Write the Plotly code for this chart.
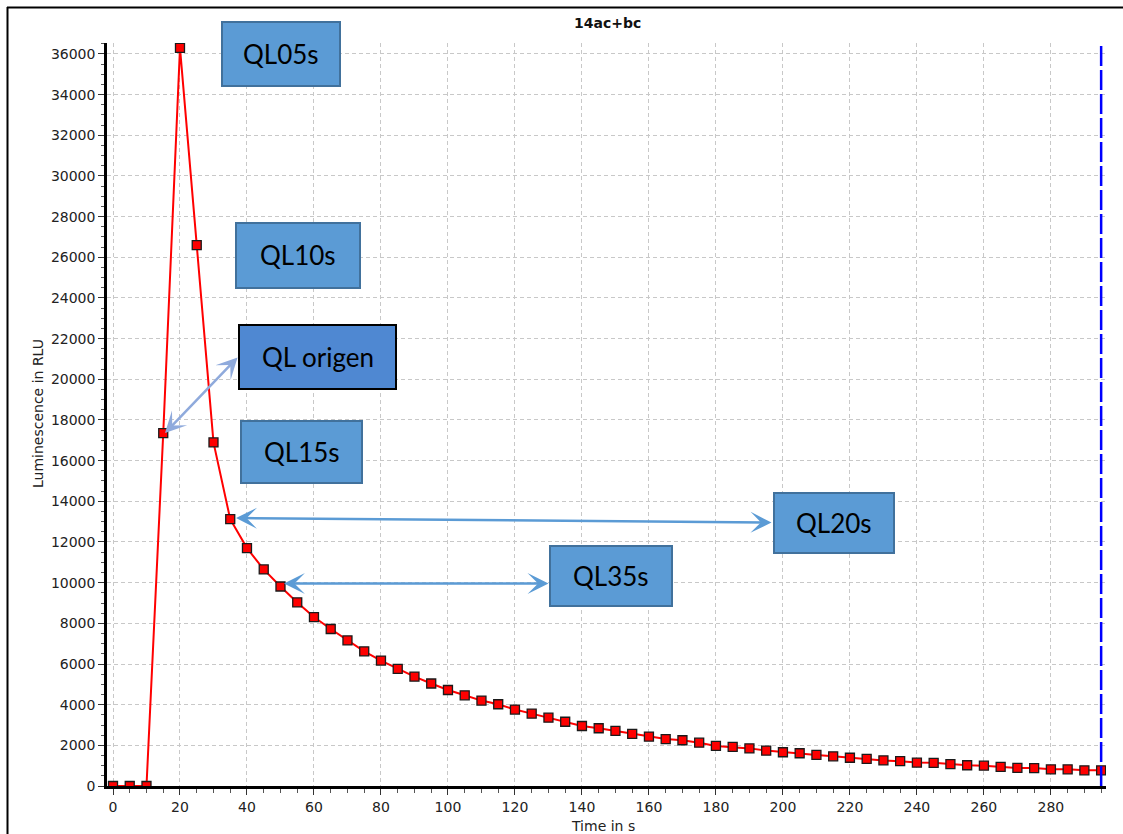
import plotly.graph_objects as go

# ---------------- data ----------------
time_s = [0, 5, 10, 15, 20, 25, 30, 35, 40, 45, 50, 55, 60, 65, 70, 75, 80, 85, 90, 95,
          100, 105, 110, 115, 120, 125, 130, 135, 140, 145, 150, 155, 160, 165, 170, 175,
          180, 185, 190, 195, 200, 205, 210, 215, 220, 225, 230, 235, 240, 245, 250, 255,
          260, 265, 270, 275, 280, 285, 290, 295]
luminescence = [0, 0, 0, 17350, 36300, 26600, 16900, 13120, 11700, 10650, 9810, 9030,
                8310, 7720, 7160, 6620, 6170, 5760, 5380, 5040, 4720, 4460, 4200, 4020,
                3760, 3560, 3360, 3160, 2950, 2840, 2710, 2560, 2430, 2310, 2250, 2130,
                1970, 1920, 1850, 1740, 1660, 1610, 1530, 1460, 1390, 1330, 1260, 1220,
                1150, 1140, 1080, 1020, 1000, 940, 890, 880, 820, 820, 770, 770]
x_ticks = [0, 20, 40, 60, 80, 100, 120, 140, 160, 180, 200, 220, 240, 260, 280]
y_ticks = [0, 2000, 4000, 6000, 8000, 10000, 12000, 14000, 16000, 18000, 20000,
           22000, 24000, 26000, 28000, 30000, 32000, 34000, 36000]
cursor_time = 295
title_text = "14ac+bc"
x_title = "Time in s"
y_title = "Luminescence in RLU"
box_labels = ["QL05s", "QL10s", "QL origen", "QL15s", "QL20s", "QL35s"]

# ---------------- layout geometry (pixels) ----------------
W, H = 1123, 834
L, R, T, B = 107, 17, 43, 48
PW, PH = W - L - R, H - T - B


def px(x):
    return (x - L) / PW


def py(y):
    return (H - B - y) / PH


fig = go.Figure()
fig.add_trace(go.Scatter(
    x=time_s, y=luminescence, mode="lines+markers",
    line=dict(color="#FF0000", width=2),
    marker=dict(symbol="square", size=9, color="#FF0000",
                line=dict(color="#1a1a1a", width=1.3)),
    showlegend=False, hoverinfo="x+y",
))

shapes = []
annotations = []

# outer frame (top and left)
shapes.append(dict(type="line", xref="paper", yref="paper", x0=px(7), x1=px(1123),
                   y0=py(7.5), y1=py(7.5), line=dict(color="#000000", width=2)))
shapes.append(dict(type="line", xref="paper", yref="paper", x0=px(7.5), x1=px(7.5),
                   y0=py(7), y1=py(834), line=dict(color="#000000", width=2)))

# blue cursor line
shapes.append(dict(type="line", xref="x", yref="paper", x0=cursor_time, x1=cursor_time,
                   y0=0, y1=py(46), line=dict(color="#0000FF", width=2.5, dash="20px,4px")))

# boxes (left, top, right, bottom) in px
boxes = [
    (222, 22, 340, 86, "#5B9BD5", "#41719C"),
    (236, 223, 360, 288, "#5B9BD5", "#41719C"),
    (239, 325, 396, 389, "#4F88D2", "#000000"),
    (241, 421, 362, 483, "#5B9BD5", "#41719C"),
    (774, 493, 894, 553, "#5B9BD5", "#41719C"),
    (550, 546, 672, 606, "#5B9BD5", "#41719C"),
]
for (x0, y0, x1, y1, fill, border), label in zip(boxes, box_labels):
    shapes.append(dict(type="rect", xref="paper", yref="paper",
                       x0=px(x0), x1=px(x1), y0=py(y1), y1=py(y0),
                       fillcolor=fill, line=dict(color=border, width=2), layer="above"))
    annotations.append(dict(xref="paper", yref="paper", x=px((x0 + x1) / 2), y=py((y0 + y1) / 2),
                            text=label, showarrow=False, xanchor="center", yanchor="middle",
                            font=dict(family="Lato", size=26, color="#000000")))

# double-headed arrows: (head_x, head_y, tail_x, tail_y, color)
arrows = [
    (165, 433, 239, 356, "#8FAADC"),
    (236, 518, 773, 522.5, "#5B9BD5"),
    (284, 583.5, 550, 583.5, "#5B9BD5"),
]
for hx, hy, tx, ty, col in arrows:
    annotations.append(dict(xref="paper", yref="paper", x=px(hx), y=py(hy),
                            ax=tx - hx, ay=ty - hy, axref="pixel", ayref="pixel",
                            text="", showarrow=True, arrowside="end+start",
                            arrowhead=3, startarrowhead=3, arrowsize=1.4, startarrowsize=1.4,
                            arrowwidth=2.5, arrowcolor=col, standoff=0, startstandoff=0))

# title and axis titles
annotations.append(dict(xref="paper", yref="paper", x=px(607), y=py(23), text="<b>" + title_text + "</b>",
                        showarrow=False, xanchor="center", yanchor="middle",
                        font=dict(family="DejaVu Sans", size=14, color="#111111")))
annotations.append(dict(xref="paper", yref="paper", x=px(603), y=py(826), text=x_title,
                        showarrow=False, xanchor="center", yanchor="middle",
                        font=dict(family="DejaVu Sans", size=14, color="#222222")))
annotations.append(dict(xref="paper", yref="paper", x=px(38), y=py(414), text=y_title,
                        showarrow=False, xanchor="center", yanchor="middle", textangle=-90,
                        font=dict(family="DejaVu Sans", size=14, color="#222222")))

fig.update_layout(
    width=W, height=H,
    margin=dict(l=L, r=R, t=T, b=B, pad=0),
    paper_bgcolor="#FFFFFF", plot_bgcolor="#FFFFFF",
    shapes=shapes, annotations=annotations,
    font=dict(family="DejaVu Sans", size=14, color="#222222"),
)
fig.update_xaxes(
    range=[-1.79, 296.45], tickvals=x_ticks, ticktext=[str(v) for v in x_ticks],
    showline=True, linecolor="#000000", linewidth=2.5,
    ticks="outside", ticklen=6, tickwidth=1, tickcolor="#333333",
    showgrid=True, gridcolor="#C8C8C8", gridwidth=1, griddash="4px,3px",
    zeroline=False,
    minor=dict(dtick=5, tick0=0, ticks="outside", ticklen=4, tickcolor="#555555", showgrid=False),
    tickfont=dict(family="DejaVu Sans", size=14, color="#222222"),
)
fig.update_yaxes(
    range=[0, 36540], tickvals=y_ticks, ticktext=[str(v) for v in y_ticks],
    showline=True, linecolor="#000000", linewidth=2.5,
    ticks="outside", ticklen=6, tickwidth=1, tickcolor="#333333",
    showgrid=True, gridcolor="#C8C8C8", gridwidth=1, griddash="4px,3px",
    zeroline=False,
    minor=dict(dtick=500, tick0=0, ticks="outside", ticklen=3, tickcolor="#555555", showgrid=False),
    tickfont=dict(family="DejaVu Sans", size=14, color="#222222"),
)

fig.write_html("out.html", config={"displayModeBar": False},
               post_script="document.body.style.margin='0';document.body.style.overflow='hidden';")
